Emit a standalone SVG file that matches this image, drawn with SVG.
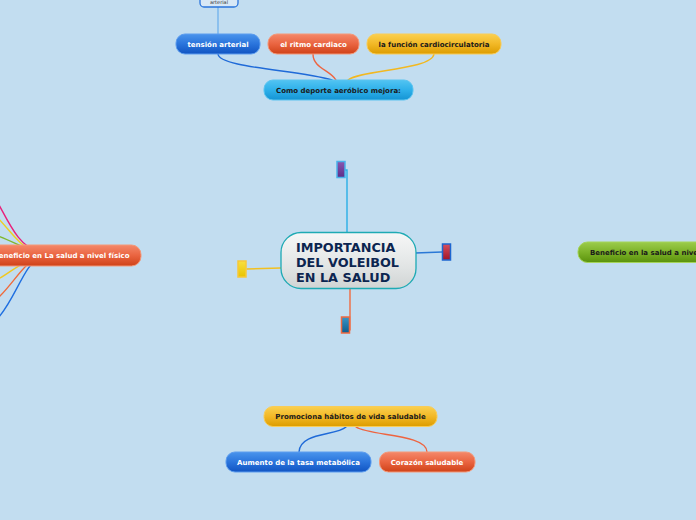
<svg xmlns="http://www.w3.org/2000/svg" width="696" height="520" viewBox="0 0 696 520">
<defs>
<linearGradient id="gBlue" x1="0" y1="0" x2="0" y2="1"><stop offset="0" stop-color="#4a94ec"/><stop offset="0.5" stop-color="#2a74dc"/><stop offset="1" stop-color="#1154c2"/></linearGradient>
<linearGradient id="gRed" x1="0" y1="0" x2="0" y2="1"><stop offset="0" stop-color="#f4886a"/><stop offset="0.5" stop-color="#ea6440"/><stop offset="1" stop-color="#cf4218"/></linearGradient>
<linearGradient id="gGold" x1="0" y1="0" x2="0" y2="1"><stop offset="0" stop-color="#fad050"/><stop offset="0.5" stop-color="#f2b826"/><stop offset="1" stop-color="#dc9c00"/></linearGradient>
<linearGradient id="gCyan" x1="0" y1="0" x2="0" y2="1"><stop offset="0" stop-color="#52c4f2"/><stop offset="0.5" stop-color="#2eb0ea"/><stop offset="1" stop-color="#1494d4"/></linearGradient>
<linearGradient id="gGreen" x1="0" y1="0" x2="0" y2="1"><stop offset="0" stop-color="#9ccc4c"/><stop offset="0.5" stop-color="#7cb228"/><stop offset="1" stop-color="#5a920c"/></linearGradient>
<linearGradient id="gCenter" x1="0" y1="0" x2="0" y2="1"><stop offset="0" stop-color="#f6f7f7"/><stop offset="0.6" stop-color="#e2e5e5"/><stop offset="1" stop-color="#d0d4d4"/></linearGradient>
<linearGradient id="mPurple" x1="0" y1="0" x2="0" y2="1"><stop offset="0" stop-color="#8a58b0"/><stop offset="1" stop-color="#5c2c88"/></linearGradient>
<linearGradient id="mRed" x1="0" y1="0" x2="0" y2="1"><stop offset="0" stop-color="#d8505e"/><stop offset="1" stop-color="#a01428"/></linearGradient>
<linearGradient id="mYellow" x1="0" y1="0" x2="0" y2="1"><stop offset="0" stop-color="#f8e040"/><stop offset="1" stop-color="#e8c400"/></linearGradient>
<linearGradient id="mTeal" x1="0" y1="0" x2="0" y2="1"><stop offset="0" stop-color="#3a96c8"/><stop offset="1" stop-color="#105c8c"/></linearGradient>
</defs>
<style>
.t{font-family:"DejaVu Sans","Liberation Sans",sans-serif;font-weight:bold;font-size:7px;text-anchor:middle}
.w{fill:#ffffff}
.d{fill:#1a1a1a}
.c{fill:none;stroke-width:1.4;stroke-linecap:round}
.node{stroke-width:1}
</style>
<rect x="0" y="0" width="696" height="520" fill="#c2ddf0"/>

<g id="connectors">
<path class="c" d="M218,7 L218,34" stroke="#74b4ec"/>
<path class="c" d="M218,54 C219,68 300,70 332,80" stroke="#1f6ad8"/>
<path class="c" d="M313,54 C313,68 330,70 336,80" stroke="#ee6440"/>
<path class="c" d="M434,54 C432,70 360,70 348,80" stroke="#f2b820"/>
<path class="c" d="M345,170 L347,170 L347,233" stroke="#2aaee6"/>
<path class="c" d="M415,253 L442,252" stroke="#2a78d6"/>
<path class="c" d="M247,269 L281,268" stroke="#f2c020"/>
<path class="c" d="M350,288 L350,330" stroke="#f06a40"/>
<path class="c" d="M40,252 C20,248 10,225 -2,203" stroke="#e8207a"/>
<path class="c" d="M40,252 C22,250 14,235 -2,218" stroke="#eed020"/>
<path class="c" d="M40,252 C25,250 15,242 -2,236" stroke="#80b830"/>
<path class="c" d="M40,258 C22,260 12,272 -2,279" stroke="#f0c820"/>
<path class="c" d="M40,258 C25,260 15,282 -2,298" stroke="#f06a3a"/>
<path class="c" d="M40,258 C25,262 15,300 -2,318" stroke="#1f6fe0"/>
<path class="c" d="M346,427 C336,436 300,432 299,452" stroke="#1f6ad8"/>
<path class="c" d="M356,427 C370,436 427,434 427,452" stroke="#ee6440"/>
</g>

<g id="n-arterial">
<rect x="200" y="-6" width="38" height="13" rx="4" fill="#d8e8f6" stroke="#2a74dc" stroke-width="1.3"/>
<text x="219" y="4.2" style="font-family:'DejaVu Sans',sans-serif;font-size:5px;text-anchor:middle" fill="#333">arterial</text>
</g>

<g id="n-tension">
<rect class="node" x="176" y="34" width="84" height="20" rx="9" fill="url(#gBlue)" stroke="#5c9cee"/>
<text class="t w" x="218" y="46.8">tensión arterial</text>
</g>
<g id="n-ritmo">
<rect class="node" x="268" y="34" width="91" height="20" rx="9" fill="url(#gRed)" stroke="#f49878"/>
<text class="t w" x="313.5" y="46.8">el ritmo cardiaco</text>
</g>
<g id="n-funcion">
<rect class="node" x="367" y="34" width="134" height="20" rx="9" fill="url(#gGold)" stroke="#f8cc58"/>
<text class="t d" x="434" y="46.8">la función cardiocirculatoria</text>
</g>
<g id="n-como">
<rect class="node" x="264" y="80" width="149" height="20" rx="9" fill="url(#gCyan)" stroke="#5ac4f0"/>
<text class="t d" x="338.5" y="92.8">Como deporte aeróbico mejora:</text>
</g>

<g id="m-top"><rect x="337" y="161.5" width="8" height="16" fill="url(#mPurple)" stroke="#4ab2ea" stroke-width="1.5"/></g>
<g id="m-right"><rect x="442.5" y="244" width="8" height="16" fill="url(#mRed)" stroke="#1e66d0" stroke-width="1.5"/></g>
<g id="m-left"><rect x="238" y="261" width="8" height="16" fill="url(#mYellow)" stroke="#f8c838" stroke-width="1.5"/></g>
<g id="m-bottom"><rect x="341.5" y="317" width="8" height="16" fill="url(#mTeal)" stroke="#f06a40" stroke-width="1.5"/></g>

<g id="n-center">
<rect x="281" y="232.5" width="135" height="56" rx="20" fill="url(#gCenter)" stroke="#1eaab4" stroke-width="1.3"/>
<text x="296" y="251.5" style="font-family:'DejaVu Sans','Liberation Sans',sans-serif;font-weight:bold;font-size:12.8px" fill="#0c2550">IMPORTANCIA</text>
<text x="296" y="266.5" style="font-family:'DejaVu Sans','Liberation Sans',sans-serif;font-weight:bold;font-size:12.8px" fill="#0c2550">DEL VOLEIBOL</text>
<text x="296" y="281.5" style="font-family:'DejaVu Sans','Liberation Sans',sans-serif;font-weight:bold;font-size:12.8px" fill="#0c2550">EN LA SALUD</text>
</g>

<g id="n-fisico">
<rect class="node" x="-20" y="245" width="161" height="21" rx="9.5" fill="url(#gRed)" stroke="#f49878"/>
<text class="t w" x="129.5" y="258.3" style="text-anchor:end">Beneficio en La salud a nivel físico</text>
</g>

<g id="n-right">
<rect class="node" x="578" y="242" width="140" height="20.5" rx="9.5" fill="url(#gGreen)" stroke="#a4d458"/>
<text class="t d" x="590" y="255" style="text-anchor:start">Beneficio en la salud a nivel</text>
</g>

<g id="n-promociona">
<rect class="node" x="264" y="406.5" width="173" height="20" rx="9" fill="url(#gGold)" stroke="#f8cc58"/>
<text class="t d" x="350.5" y="419.3">Promociona hábitos de vida saludable</text>
</g>
<g id="n-aumento">
<rect class="node" x="226" y="452" width="145" height="20" rx="9" fill="url(#gBlue)" stroke="#5c9cee"/>
<text class="t w" x="298.5" y="464.8">Aumento de la tasa metabólica</text>
</g>
<g id="n-corazon">
<rect class="node" x="379.5" y="452" width="95.5" height="20" rx="9" fill="url(#gRed)" stroke="#f49878"/>
<text class="t w" x="427" y="464.8">Corazón saludable</text>
</g>
</svg>
